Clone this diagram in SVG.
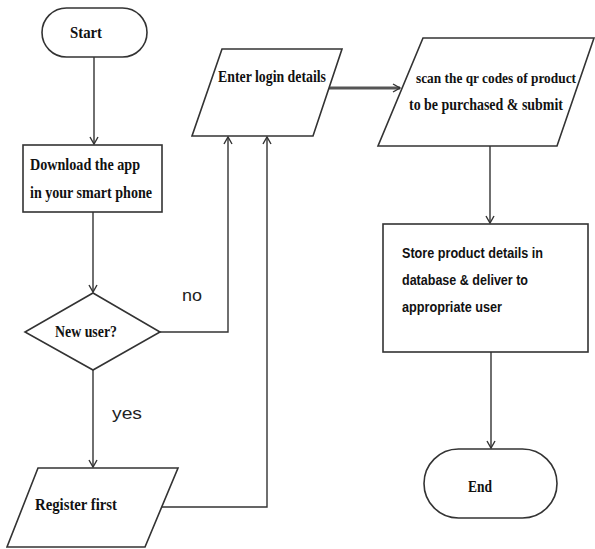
<svg xmlns="http://www.w3.org/2000/svg" width="595" height="549" viewBox="0 0 595 549">
<style>
.shape{fill:#fff;stroke:#333;stroke-width:1.6}
.conn{fill:none;stroke:#333;stroke-width:1.4}
.thick{fill:none;stroke:#555;stroke-width:3}
.t{font-family:"Liberation Serif",serif;font-weight:bold;font-size:16px;fill:#111}
.c{font-family:"Liberation Sans",sans-serif;font-weight:bold;font-size:15px;fill:#111}
.lbl{font-family:"Liberation Sans",sans-serif;font-size:17px;fill:#222}
</style>
<defs>
<marker id="arr" markerWidth="10" markerHeight="10" refX="8" refY="5" orient="auto" markerUnits="userSpaceOnUse">
<path d="M1,1 L8,5 L1,9" fill="none" stroke="#333" stroke-width="1.4"/>
</marker>
</defs>
<g id="connectors">
<line class="conn" x1="94" y1="57" x2="94" y2="144" marker-end="url(#arr)"/>
<line class="conn" x1="93" y1="212" x2="93" y2="292" marker-end="url(#arr)"/>
<polyline class="conn" points="160,332 228,332 228,137" marker-end="url(#arr)"/>
<line class="conn" x1="93" y1="370" x2="93" y2="467" marker-end="url(#arr)"/>
<polyline class="conn" points="162,507 267,507 267,137" marker-end="url(#arr)"/>
<line class="thick" x1="326" y1="88" x2="400" y2="88" marker-end="url(#arr)"/>
<line class="conn" x1="490" y1="146" x2="490" y2="223" marker-end="url(#arr)"/>
<line class="conn" x1="491" y1="352" x2="491" y2="448" marker-end="url(#arr)"/>
<text class="lbl" x="182" y="301" textLength="20" lengthAdjust="spacingAndGlyphs">no</text>
<text class="lbl" x="112" y="419" textLength="30" lengthAdjust="spacingAndGlyphs">yes</text>
</g>
<g id="start">
<rect class="shape" x="42" y="8" width="105" height="49" rx="24.5"/>
<text class="t" x="70" y="38" textLength="32" lengthAdjust="spacingAndGlyphs">Start</text>
</g>
<g id="download">
<rect class="shape" x="23" y="145" width="139" height="67"/>
<text class="t" x="30" y="170" textLength="110" lengthAdjust="spacingAndGlyphs">Download the app</text>
<text class="t" x="30" y="198" textLength="122" lengthAdjust="spacingAndGlyphs">in your smart phone</text>
</g>
<g id="newuser">
<polygon class="shape" points="93,293 160,332 93,370 25,332"/>
<text class="t" x="55" y="337" textLength="62" lengthAdjust="spacingAndGlyphs">New user?</text>
</g>
<g id="register">
<polygon class="shape" points="38,468 178,468 145,547 7,547"/>
<text class="t" x="35" y="510" textLength="82" lengthAdjust="spacingAndGlyphs">Register first</text>
</g>
<g id="login">
<polygon class="shape" points="222,49 342,49 313,136 192,136"/>
<text class="t" x="218" y="82" textLength="108" lengthAdjust="spacingAndGlyphs">Enter login details</text>
</g>
<g id="scan">
<polygon class="shape" points="423,38 594,38 557,146 378,146"/>
<text class="t" x="416" y="83" style="font-size:14.5px" textLength="160" lengthAdjust="spacingAndGlyphs">scan the qr codes of product</text>
<text class="t" x="409" y="110" textLength="154" lengthAdjust="spacingAndGlyphs">to be purchased &amp; submit</text>
</g>
<g id="store">
<rect class="shape" x="383" y="224" width="205" height="128"/>
<text class="c" x="402" y="258" textLength="141" lengthAdjust="spacingAndGlyphs">Store product details in</text>
<text class="c" x="402" y="285" textLength="126" lengthAdjust="spacingAndGlyphs">database &amp; deliver to</text>
<text class="c" x="402" y="312" textLength="100" lengthAdjust="spacingAndGlyphs">appropriate user</text>
</g>
<g id="end">
<rect class="shape" x="424" y="449" width="133" height="69" rx="34.5"/>
<text class="t" x="468" y="492" textLength="24" lengthAdjust="spacingAndGlyphs">End</text>
</g>
</svg>
